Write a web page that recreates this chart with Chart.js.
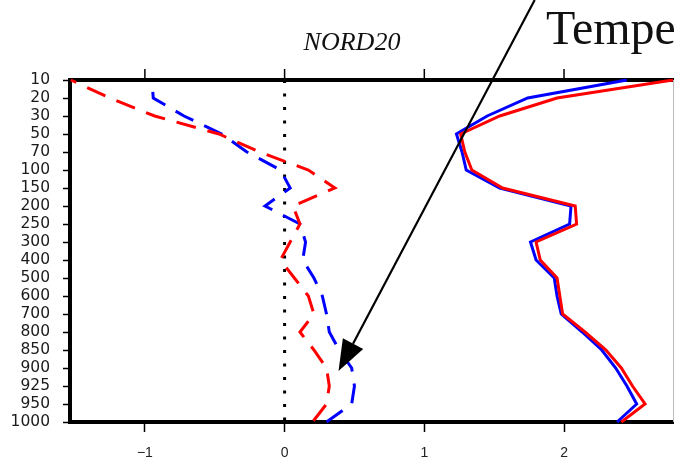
<!DOCTYPE html>
<html>
<head>
<meta charset="utf-8">
<script src="https://cdn.jsdelivr.net/npm/chart.js@4.4.1/dist/chart.umd.min.js"></script>
<style>
  html, body { margin: 0; padding: 0; background: #fff; }
  canvas { display: block; }
</style>
</head>
<body>
<canvas id="myChart" width="674" height="465"></canvas>
<script>
// pressure levels (hPa), top to bottom
const levels = ['10', '20', '30', '50', '70', '100', '150', '200', '250', '300',
                '400', '500', '600', '700', '800', '850', '900', '925', '950', '1000'];

const redSolid   = [2.78, 1.95, 1.54, 1.26, 1.29, 1.34, 1.56, 2.08, 2.09, 1.80,
                    1.83, 1.95, 1.97, 1.99, 2.15, 2.30, 2.41, 2.49, 2.58, 2.41];
const blueSolid  = [2.45, 1.74, 1.45, 1.23, 1.27, 1.30, 1.54, 2.05, 2.04, 1.76,
                    1.80, 1.93, 1.95, 1.98, 2.13, 2.27, 2.37, 2.45, 2.52, 2.38];
const redDashed  = [-1.53, -1.25, -0.93, -0.47, -0.18, 0.17, 0.36, 0.06, 0.11, 0.04,
                    -0.03, 0.07, 0.17, 0.21, 0.11, 0.21, 0.30, 0.32, 0.30, 0.20];
const blueDashed = [-0.95, -0.94, -0.72, -0.45, -0.27, -0.03, 0.04, -0.14, 0.11, 0.15,
                    0.13, 0.21, 0.27, 0.30, 0.32, 0.39, 0.48, 0.50, 0.48, 0.30];
const zeroLine   = levels.map(() => 0);

const xTicks = [-1, 0, 1, 2];
const xMin = -1.536, xMax = 2.78;

// arrow annotation in data units (x value, y category index)
const arrowFrom = { x: 1.79, y: -4.44 };
const arrowTo   = { x: 0.386, y: 16.17 };

const extras = {
    id: 'extras',
    afterDraw(chart) {
        const ctx = chart.ctx;
        const area = chart.chartArea;
        const xs = chart.scales.x, ys = chart.scales.y;
        ctx.save();

        // thin right frame
        ctx.strokeStyle = '#bbb';
        ctx.lineWidth = 1;
        ctx.beginPath();
        ctx.moveTo(area.right + 0.5, area.top);
        ctx.lineTo(area.right + 0.5, area.bottom);
        ctx.stroke();

        // tick marks along the top edge
        ctx.strokeStyle = '#000';
        ctx.lineWidth = 1.5;
        xTicks.forEach(v => {
            const px = xs.getPixelForValue(v);
            ctx.beginPath();
            ctx.moveTo(px, area.top - 11);
            ctx.lineTo(px, area.top);
            ctx.stroke();
        });

        // title
        ctx.fillStyle = '#111';
        ctx.font = 'italic 26px "Liberation Serif"';
        ctx.textAlign = 'center';
        ctx.textBaseline = 'alphabetic';
        ctx.fillText('NORD20', 352, 50);

        // big label, cut off by the edge
        ctx.font = '48px "Liberation Serif"';
        ctx.textAlign = 'left';
        ctx.fillText('Tempe', 546, 44);

        // arrow
        const x0 = xs.getPixelForValue(arrowFrom.x), y0 = ys.getPixelForValue(arrowFrom.y);
        const x1 = xs.getPixelForValue(arrowTo.x), y1 = ys.getPixelForValue(arrowTo.y);
        const ang = Math.atan2(y1 - y0, x1 - x0);
        const headLen = 31, headHalf = 11.5;
        const bx = x1 - headLen * Math.cos(ang), by = y1 - headLen * Math.sin(ang);
        ctx.strokeStyle = '#000';
        ctx.lineWidth = 2.2;
        ctx.beginPath();
        ctx.moveTo(x0, y0);
        ctx.lineTo(bx, by);
        ctx.stroke();
        ctx.fillStyle = '#000';
        ctx.beginPath();
        ctx.moveTo(x1, y1);
        ctx.lineTo(bx + headHalf * Math.sin(ang), by - headHalf * Math.cos(ang));
        ctx.lineTo(bx - headHalf * Math.sin(ang), by + headHalf * Math.cos(ang));
        ctx.closePath();
        ctx.fill();

        ctx.restore();
    }
};

const lineStyle = { pointRadius: 0, borderWidth: 3, tension: 0, fill: false };

new Chart(document.getElementById('myChart'), {
    type: 'line',
    data: {
        labels: levels,
        datasets: [
            { ...lineStyle, data: redSolid, borderColor: '#f00' },
            { ...lineStyle, data: blueSolid, borderColor: '#00f' },
            { ...lineStyle, data: redDashed, borderColor: '#f00', borderDash: [20, 12], borderDashOffset: 14 },
            { ...lineStyle, data: blueDashed, borderColor: '#00f', borderDash: [20, 12], borderDashOffset: 20 },
            { ...lineStyle, data: zeroLine, borderColor: '#000', borderWidth: 3, borderDash: [3, 10.5] }
        ]
    },
    options: {
        indexAxis: 'y',
        responsive: false,
        animation: false,
        devicePixelRatio: 1,
        layout: { padding: { right: 1, left: 0, top: 0, bottom: 0 } },
        plugins: { legend: { display: false }, title: { display: false }, tooltip: { enabled: false } },
        scales: {
            x: {
                type: 'linear',
                position: 'bottom',
                min: xMin,
                max: xMax,
                afterBuildTicks: (s) => { s.ticks = xTicks.map(v => ({ value: v })); },
                afterFit: (s) => { s.height = 43; },
                ticks: {
                    color: '#222',
                    padding: 13,
                    font: { family: '"Liberation Sans"', size: 14 },
                    callback: (v) => String(v).replace('-', '\u2212')
                },
                grid: { drawOnChartArea: false, drawTicks: true, tickLength: 10, tickColor: '#000', tickWidth: 1.5 },
                border: { display: true, width: 4, color: '#000' }
            },
            x2: {
                type: 'linear',
                position: 'top',
                min: xMin,
                max: xMax,
                afterFit: (s) => { s.height = 80; },
                ticks: { display: false },
                grid: { display: false },
                border: { display: true, width: 4, color: '#000' }
            },
            y: {
                type: 'category',
                position: 'left',
                afterFit: (s) => { s.width = 70; },
                ticks: {
                    autoSkip: false,
                    color: '#1a1a1a',
                    padding: 13,
                    font: { family: '"DejaVu Sans"', size: 15.5 }
                },
                grid: { drawOnChartArea: false, drawTicks: true, tickLength: 7, tickColor: '#000', tickWidth: 1.5 },
                border: { display: true, width: 4, color: '#000' }
            }
        }
    },
    plugins: [extras]
});
</script>
</body>
</html>
